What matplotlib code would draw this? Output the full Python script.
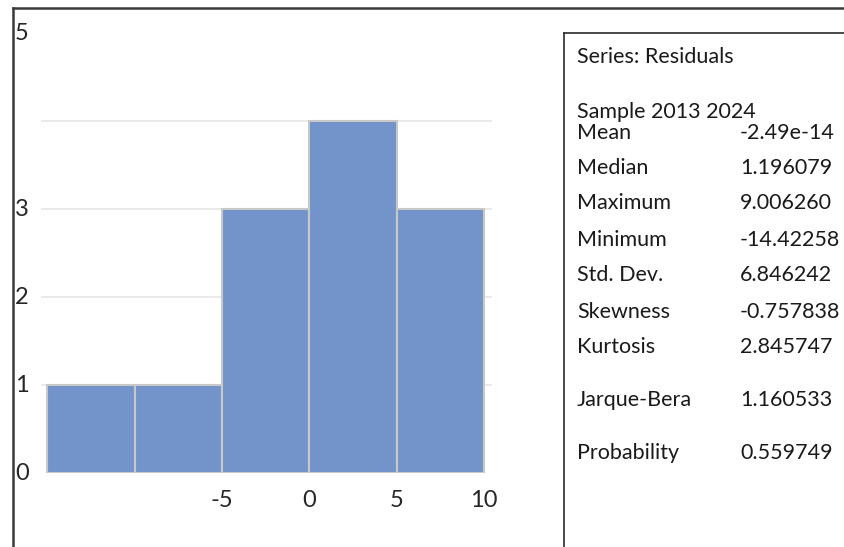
import matplotlib
matplotlib.use("Agg")
import matplotlib.pyplot as plt
import matplotlib.transforms as mtransforms
from matplotlib.lines import Line2D

# histogram of residuals
bin_edges = [-15, -10, -5, 0, 5, 10]
counts = [1, 1, 3, 4, 3]
x_ticks = [-5, 0, 5, 10]
y_ticks = [0, 1, 2, 3, 5]
grid_levels = [1, 2, 3, 4]

# descriptive stats panel
series_title = "Series: Residuals"
sample_text = "Sample 2013 2024"
stat_names = ["Mean", "Median", "Maximum", "Minimum", "Std. Dev.",
              "Skewness", "Kurtosis", "Jarque-Bera", "Probability"]
stat_values = ["-2.49e-14", "1.196079", "9.006260", "-14.42258", "6.846242",
               "-0.757838", "2.845747", "1.160533", "0.559749"]

W, H = 845, 547
plt.rcParams['font.family'] = ['Lato', 'DejaVu Sans']

fig = plt.figure(figsize=(W / 100, H / 100), dpi=100)

def fx(px):
    return px / W

def fy(py):
    return 1 - py / H

# axes: x -15.35..10.45 spans px 41..492, y 0 at px 473, 88 px per unit
ax_left, ax_right = 41, 492
ax_bottom, ax_top = 473, 33
ax = fig.add_axes([fx(ax_left), fy(ax_bottom), (ax_right - ax_left) / W, (ax_bottom - ax_top) / H])
ax.set_xlim(-15.35, 10.45)
ax.set_ylim(0, 5)

for g in grid_levels:
    ax.axhline(g, color='#e6e6e6', lw=1.2, zorder=0)

widths = [bin_edges[i + 1] - bin_edges[i] for i in range(len(counts))]
ax.bar(bin_edges[:-1], counts, width=widths, align='edge',
       color='#7294ca', edgecolor='#c8c8c8', linewidth=1.5, zorder=2)

for s in ax.spines.values():
    s.set_visible(False)
ax.set_xticks(x_ticks)
ax.set_xticklabels([str(v) for v in x_ticks])
ax.tick_params(axis='x', length=0, pad=12, labelsize=17, labelcolor='#262626')
ax.set_yticks([])

# y labels sit right against the outer frame
trans = mtransforms.blended_transform_factory(fig.transFigure, ax.transData)
for v in y_ticks:
    ax.text(fx(15), v, str(v), transform=trans, ha='left', va='center',
            fontsize=17, color='#262626')

# outer frame (left and top only, rest cropped)
fig.add_artist(Line2D([fx(13), fx(13)], [fy(8), 0], color='#3a3a3a', lw=1.8))
fig.add_artist(Line2D([fx(13), 1], [fy(8), fy(8)], color='#3a3a3a', lw=1.8))

# stats box
fig.add_artist(Line2D([fx(564), fx(564)], [fy(33), 0], color='#2a2a2a', lw=1.2))
fig.add_artist(Line2D([fx(564), 1], [fy(33), fy(33)], color='#2a2a2a', lw=1.2))

txt_kw = dict(fontsize=15.5, color='#1a1a1a', va='center', ha='left')
fig.text(fx(577), fy(57), series_title, **txt_kw)
fig.text(fx(577), fy(112), sample_text, **txt_kw)
row_y = [133, 168, 203, 240, 275, 312, 347, 400, 453]
for name, val, y in zip(stat_names, stat_values, row_y):
    fig.text(fx(577), fy(y), name, **txt_kw)
    fig.text(fx(740), fy(y), val, **txt_kw)

fig.savefig("out.png", dpi=100)
